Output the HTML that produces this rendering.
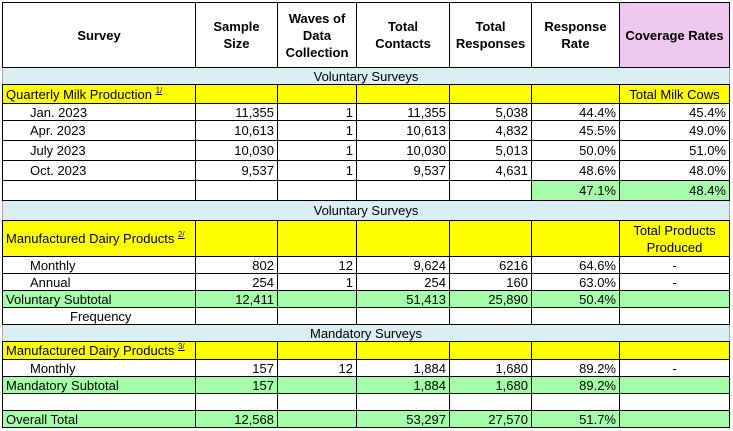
<!DOCTYPE html>
<html><head><style>
body{margin:0;background:#fff;font-family:"Liberation Sans",Arial,sans-serif;font-size:13px;color:#000}
table{position:absolute;left:2px;top:2px;border-collapse:collapse;table-layout:fixed;width:727px}
td{border:1px solid #000;padding:0 3px;white-space:nowrap;overflow:hidden;line-height:15px}
.r{text-align:right}.c{text-align:center}
.h td{font-weight:bold;text-align:center;line-height:17px}
.s td{background:#daeef3;text-align:center;border-left-color:#aaa;border-right-color:#aaa}
.y td{background:#ffff00}
.g{background:#a6fda9}
.i{padding-left:27px}
sup{font-size:8px;text-decoration:underline;vertical-align:6px;line-height:0}
</style></head><body>
<table>
<colgroup><col style="width:193px"><col style="width:82px"><col style="width:79px"><col style="width:93px"><col style="width:82px"><col style="width:88px"><col style="width:110px"></colgroup>
<tr class="h" style="height:65px"><td>Survey</td><td>Sample<br>Size</td><td>Waves of<br>Data<br>Collection</td><td>Total<br>Contacts</td><td>Total<br>Responses</td><td>Response<br>Rate</td><td style="background:#ecc8ee">Coverage Rates</td></tr>
<tr class="s" style="height:17px"><td colspan="7">Voluntary Surveys</td></tr>
<tr class="y" style="height:19px"><td>Quarterly Milk Production <sup>1/</sup></td><td></td><td></td><td></td><td></td><td></td><td class="c">Total Milk Cows</td></tr>
<tr style="height:17px"><td class="i">Jan. 2023</td><td class="r">11,355</td><td class="r">1</td><td class="r">11,355</td><td class="r">5,038</td><td class="r">44.4%</td><td class="r">45.4%</td></tr>
<tr style="height:20px"><td class="i">Apr. 2023</td><td class="r">10,613</td><td class="r">1</td><td class="r">10,613</td><td class="r">4,832</td><td class="r">45.5%</td><td class="r">49.0%</td></tr>
<tr style="height:20px"><td class="i">July 2023</td><td class="r">10,030</td><td class="r">1</td><td class="r">10,030</td><td class="r">5,013</td><td class="r">50.0%</td><td class="r">51.0%</td></tr>
<tr style="height:20px"><td class="i">Oct. 2023</td><td class="r">9,537</td><td class="r">1</td><td class="r">9,537</td><td class="r">4,631</td><td class="r">48.6%</td><td class="r">48.0%</td></tr>
<tr style="height:20px"><td></td><td></td><td></td><td></td><td></td><td class="r g">47.1%</td><td class="r g">48.4%</td></tr>
<tr class="s" style="height:20px"><td colspan="7">Voluntary Surveys</td></tr>
<tr class="y" style="height:36px"><td>Manufactured Dairy Products <sup>2/</sup></td><td></td><td></td><td></td><td></td><td></td><td class="c" style="line-height:17px">Total Products<br>Produced</td></tr>
<tr style="height:17px"><td class="i">Monthly</td><td class="r">802</td><td class="r">12</td><td class="r">9,624</td><td class="r">6216</td><td class="r">64.6%</td><td class="c">-</td></tr>
<tr style="height:17px"><td class="i">Annual</td><td class="r">254</td><td class="r">1</td><td class="r">254</td><td class="r">160</td><td class="r">63.0%</td><td class="c">-</td></tr>
<tr class="gr" style="height:17px"><td class="g">Voluntary Subtotal</td><td class="r g">12,411</td><td class="g"></td><td class="r g">51,413</td><td class="r g">25,890</td><td class="r g">50.4%</td><td class="g"></td></tr>
<tr style="height:17px"><td style="padding-left:67px">Frequency</td><td></td><td></td><td></td><td></td><td></td><td></td></tr>
<tr class="s" style="height:17px"><td colspan="7">Mandatory Surveys</td></tr>
<tr class="y" style="height:18px"><td>Manufactured Dairy Products <sup>3/</sup></td><td></td><td></td><td></td><td></td><td></td><td></td></tr>
<tr style="height:17px"><td class="i">Monthly</td><td class="r">157</td><td class="r">12</td><td class="r">1,884</td><td class="r">1,680</td><td class="r">89.2%</td><td class="c">-</td></tr>
<tr style="height:17px"><td class="g">Mandatory Subtotal</td><td class="r g">157</td><td class="g"></td><td class="r g">1,884</td><td class="r g">1,680</td><td class="r g">89.2%</td><td class="g"></td></tr>
<tr style="height:17px"><td></td><td></td><td></td><td></td><td></td><td></td><td></td></tr>
<tr style="height:17px"><td class="g">Overall Total</td><td class="r g">12,568</td><td class="g"></td><td class="r g">53,297</td><td class="r g">27,570</td><td class="r g">51.7%</td><td class="g"></td></tr>
</table>
</body></html>
